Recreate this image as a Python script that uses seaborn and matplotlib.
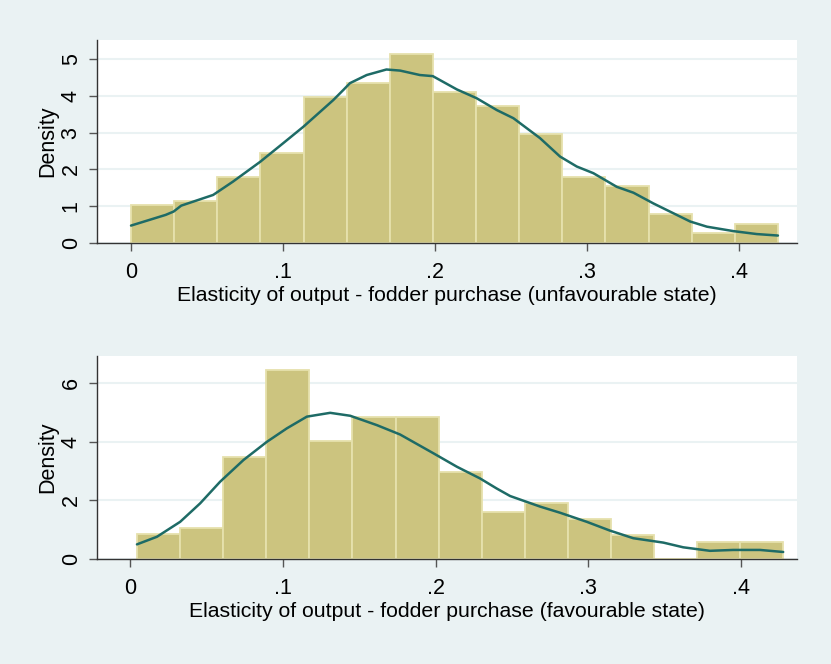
import numpy as np
import pandas as pd
import matplotlib
matplotlib.use('Agg')
import matplotlib.pyplot as plt
import seaborn as sns

# Histogram bars (15 equal bins per panel)
unfav_start, unfav_width = 0.0, 0.02837
unfav_density = [1.05, 1.15, 1.80, 2.44, 3.96, 4.35, 5.12, 4.10, 3.71, 2.95,
                 1.80, 1.55, 0.79, 0.27, 0.52]

fav_start, fav_width = 0.0044, 0.02824
fav_density = [0.84, 1.07, 3.49, 6.44, 4.04, 4.84, 4.84, 2.96, 1.61, 1.90,
               1.35, 0.82, 0.0, 0.57, 0.57]

# Kernel density curves, traced points
unfav_kde_x = [0.0, 0.0228, 0.028, 0.033, 0.054, 0.067, 0.085, 0.100, 0.1134,
               0.133, 0.140, 0.144, 0.155, 0.168, 0.177, 0.190, 0.1985, 0.2143,
               0.2274, 0.2406, 0.2515, 0.269, 0.2822, 0.2932, 0.3041, 0.3195,
               0.3305, 0.3436, 0.3678, 0.3788, 0.3962, 0.4116, 0.4255]
unfav_kde_y = [0.48, 0.77, 0.86, 1.02, 1.31, 1.67, 2.21, 2.71, 3.16,
               3.88, 4.17, 4.34, 4.56, 4.71, 4.68, 4.56, 4.53, 4.17,
               3.93, 3.61, 3.39, 2.85, 2.35, 2.08, 1.90, 1.53,
               1.37, 1.08, 0.59, 0.45, 0.33, 0.25, 0.21]

fav_kde_x = [0.0044, 0.0175, 0.0327, 0.0458, 0.0589, 0.0742, 0.0895, 0.1026,
             0.1157, 0.131, 0.1441, 0.1616, 0.1768, 0.1986, 0.214, 0.2292,
             0.240, 0.2489, 0.2685, 0.2816, 0.2991, 0.3143, 0.3296, 0.3493,
             0.3623, 0.3798, 0.3951, 0.4126, 0.4278]
fav_kde_y = [0.50, 0.76, 1.27, 1.90, 2.64, 3.38, 4.00, 4.46,
             4.86, 4.99, 4.89, 4.57, 4.25, 3.61, 3.15, 2.75,
             2.41, 2.15, 1.79, 1.58, 1.27, 0.97, 0.71, 0.56,
             0.40, 0.28, 0.31, 0.31, 0.24]

xticks = [0, 0.1, 0.2, 0.3, 0.4]
xtick_labels = ['0', '.1', '.2', '.3', '.4']

bg = '#eaf2f3'
bar_fill = '#ccc47f'
bar_edge = '#e6e1ad'
line_col = '#1e6b66'

sns.set_style('white')
plt.rcParams['font.family'] = ['Liberation Sans', 'DejaVu Sans']

fig = plt.figure(figsize=(8.31, 6.64), dpi=100, facecolor=bg)
ax1 = fig.add_axes([0.1167, 0.6336, 0.8423, 0.3062])
ax2 = fig.add_axes([0.1167, 0.1581, 0.8423, 0.3062])


def panel(ax, start, width, dens, kx, ky, ylim, yticks, xlabel, xlim):
    n = len(dens)
    edges = [start + width * i for i in range(n + 1)]
    df = pd.DataFrame({'x': [e + width / 2 for e in edges[:-1]], 'w': dens})
    sns.histplot(data=df, x='x', weights='w', bins=edges, stat='count', ax=ax,
                 color=bar_fill, edgecolor=bar_edge, linewidth=1.3, alpha=1)
    sns.lineplot(x=kx, y=ky, ax=ax, color=line_col, linewidth=1.8)
    ax.set_xlim(*xlim)
    ax.set_ylim(0, ylim)
    ax.set_yticks(yticks)
    ax.set_yticklabels([str(t) for t in yticks], rotation=90, va='center')
    ax.set_xticks(xticks)
    ax.set_xticklabels(xtick_labels)
    ax.set_xlabel(xlabel, fontsize=15.3, labelpad=2, color='black')
    ax.set_ylabel('Density', fontsize=15.5, labelpad=2, color='black')
    ax.tick_params(axis='both', labelsize=15.5, length=6, width=1,
                   color='#555555', labelcolor='black', direction='out',
                   bottom=True, left=True)
    ax.tick_params(axis='x', pad=7.5)
    ax.tick_params(axis='y', pad=5)
    for t in yticks:
        ax.axhline(t, color=bg, linewidth=1.5, zorder=0)
    ax.set_facecolor('white')
    for s in ['top', 'right']:
        ax.spines[s].set_visible(False)
    for s in ['left', 'bottom']:
        ax.spines[s].set_color('#333333')
        ax.spines[s].set_linewidth(1)


panel(ax1, unfav_start, unfav_width, unfav_density, unfav_kde_x, unfav_kde_y,
      5.51, [0, 1, 2, 3, 4, 5],
      'Elasticity of output - fodder purchase (unfavourable state)',
      (-0.0224, 0.438))
panel(ax2, fav_start, fav_width, fav_density, fav_kde_x, fav_kde_y,
      6.94, [0, 2, 4, 6],
      'Elasticity of output - fodder purchase (favourable state)',
      (-0.0218, 0.4368))

fig.savefig('out.png', dpi=100, facecolor=bg)
